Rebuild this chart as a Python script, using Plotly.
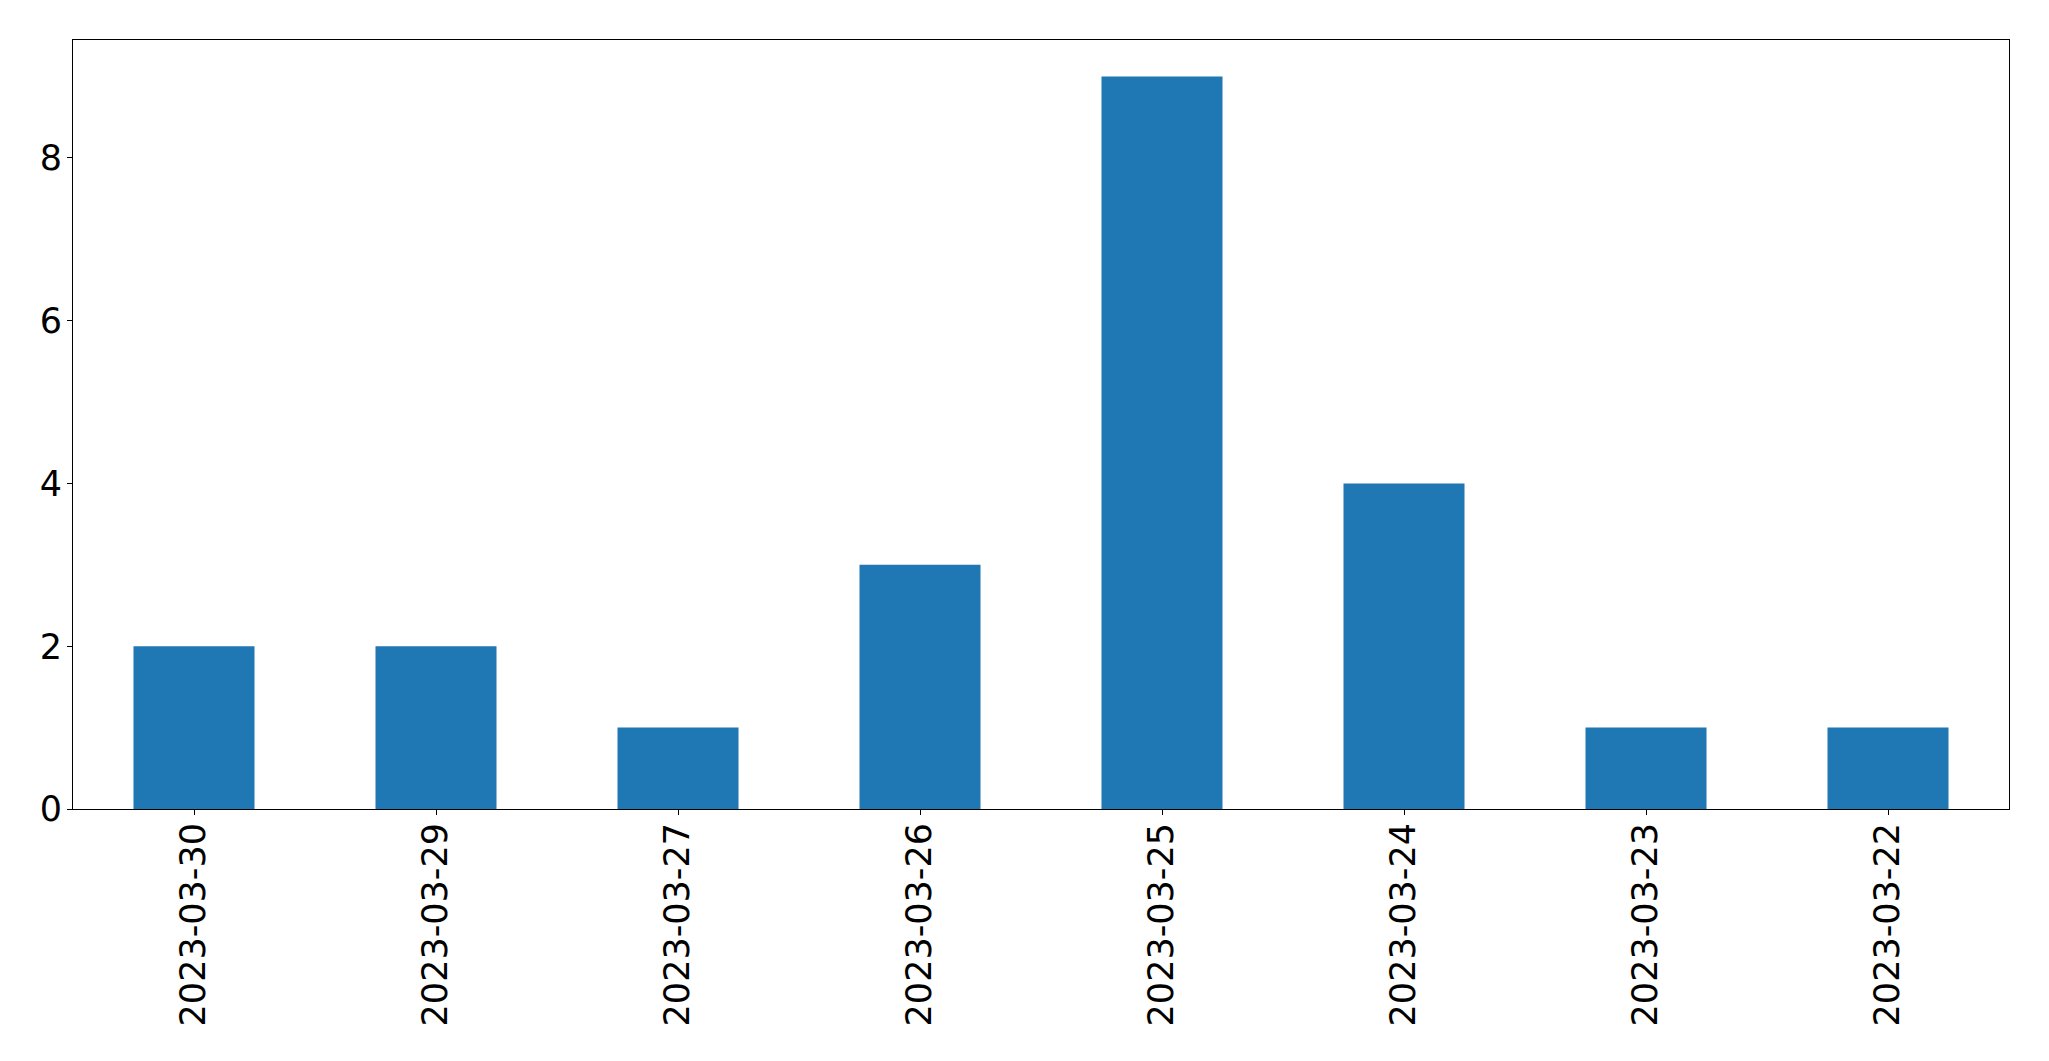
import plotly.graph_objects as go

dates = ["2023-03-30", "2023-03-29", "2023-03-27", "2023-03-26",
         "2023-03-25", "2023-03-24", "2023-03-23", "2023-03-22"]
counts = [2, 2, 1, 3, 9, 4, 1, 1]
y_ticks = [0, 2, 4, 6, 8]

fig = go.Figure(go.Bar(x=dates, y=counts, width=0.5,
                       marker=dict(color="#1f77b4", line=dict(width=0))))

font = dict(family="DejaVu Sans", size=35, color="black")
# page body has an 8px default margin, so the figure is sized to fit inside it
fig.update_layout(
    width=2033, height=1045,
    margin=dict(l=64.5, r=31.5, t=31.5, b=244, autoexpand=False),
    paper_bgcolor="white", plot_bgcolor="white",
    font=font, showlegend=False,
)
fig.update_xaxes(type="category", range=[-0.5, 7.5], tickangle=-90,
                 showline=True, linecolor="black", linewidth=1, mirror=True,
                 ticks="outside", ticklen=5, tickwidth=1, tickcolor="black",
                 showgrid=False, zeroline=False, tickfont=font, automargin=False,
                 ticklabelstandoff=-6)
fig.update_yaxes(range=[0, 9.45], tickvals=y_ticks,
                 showline=True, linecolor="black", linewidth=1, mirror=True,
                 ticks="outside", ticklen=5, tickwidth=1, tickcolor="black",
                 showgrid=False, zeroline=False, tickfont=font, automargin=False,
                 ticklabelstandoff=-2)

fig.write_html("out.html")
